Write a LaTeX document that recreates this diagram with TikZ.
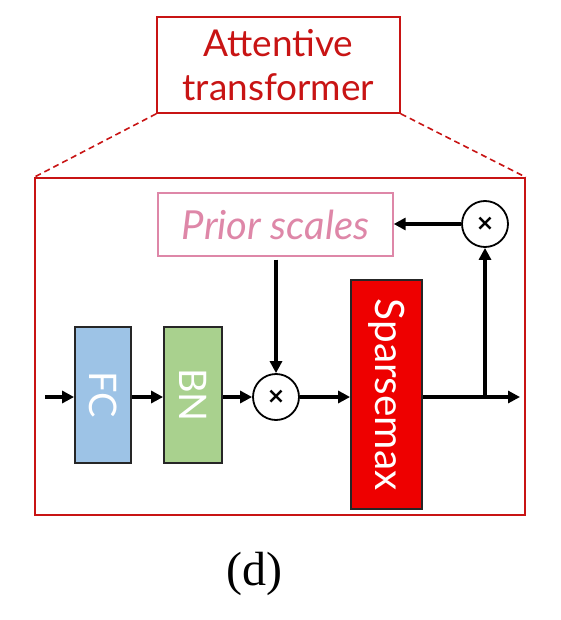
\documentclass[tikz,border=0pt]{standalone}
\usepackage{fontspec}
\setmainfont{Lato}
\newfontfamily\timesfont{Liberation Serif}
\newfontfamily\dvfont{DejaVu Sans}
\usetikzlibrary{arrows.meta}
\definecolor{tred}{RGB}{200,20,20}
\definecolor{pinkc}{RGB}{222,135,168}
\definecolor{fcblue}{RGB}{157,195,230}
\definecolor{bngreen}{RGB}{169,209,142}
\definecolor{spred}{RGB}{238,0,0}
\tikzset{
  redbox/.style={draw=tred, line width=1.6pt, inner sep=0pt},
  blockbox/.style={draw=black!85, line width=1.8pt, inner sep=0pt},
  rottext/.style={rotate=-90, text=white, inner sep=0pt, font=\fontsize{38}{40}\selectfont},
  mulnode/.style={circle, draw=black, line width=1.8pt, minimum size=46pt, inner sep=0pt, font=\dvfont\bfseries\fontsize{22}{22}\selectfont},
  arr/.style={line width=3.2pt, -{Triangle[length=12pt,width=12pt]}},
}
\begin{document}
\begin{tikzpicture}[x=1pt,y=-1pt]
\useasboundingbox (0,0) rectangle (560,620);
% title
\node[redbox, minimum width=243pt, minimum height=96pt, text=tred, align=center,
      font=\fontsize{37}{44}\selectfont] (title) at (278.5,65) {Attentive\\transformer};
% outer box
\node[redbox, minimum width=490pt, minimum height=337pt] (outer) at (280,346.5) {};
\draw[tred, line width=1.6pt, dash pattern=on 6pt off 4pt] (title.south west) -- (outer.north west);
\draw[tred, line width=1.6pt, dash pattern=on 6pt off 4pt] (title.south east) -- (outer.north east);
% prior scales
\node[draw=pinkc, line width=1.4pt, minimum width=235pt, minimum height=63pt, inner sep=0pt,
      text=pinkc, font=\itshape\fontsize{40}{44}\selectfont] (prior) at (275.5,224.5) {Prior scales};
% multipliers
\node[mulnode] (m2) at (485,224) {×};
\node[mulnode] (m1) at (276,397) {×};
% blocks
\node[blockbox, fill=fcblue, minimum width=56pt, minimum height=136pt] (fc) at (103,395) {};
\node[rottext] (fct) at (fc) {FC};
\node[blockbox, fill=bngreen, minimum width=58pt, minimum height=136pt] (bn) at (193,395) {};
\node[rottext] (bnt) at (bn) {BN};
\node[blockbox, fill=spred, minimum width=71pt, minimum height=229pt] (sp) at (386.5,394.5) {};
\node[rottext, font=\fontsize{40.5}{42}\selectfont] (spt) at (sp) {Sparsemax};
% connectors
\coordinate (in) at (45,397);
\coordinate (out) at (520,397);
\coordinate (j) at (485,397);
\draw[arr] (in) -- (in -| fc.west);
\draw[arr] (fc.east |- in) -- (bn.west |- in);
\draw[arr] (bn.east |- in) -- (m1.west);
\draw[arr] (m1.east) -- (sp.west |- m1.east);
\draw[arr] (sp.east |- in) -- (out);
\draw[arr] (j) -- (m2.south);
\draw[arr] (m2.west) -- (prior.east |- m2.west);
\draw[arr] ([yshift=-3pt]prior.south -| m1.north) -- (m1.north);
% caption
\node[font=\timesfont\fontsize{48}{50}\selectfont, inner sep=0pt] (cap) at (254,574) {(d)};
\end{tikzpicture}
\end{document}
